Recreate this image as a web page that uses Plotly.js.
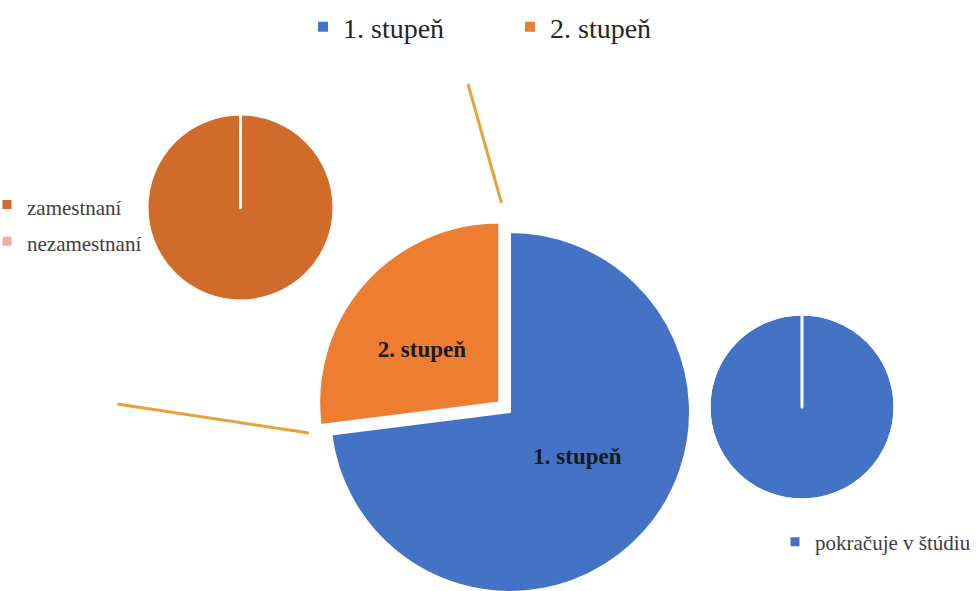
<!DOCTYPE html>
<html><head><meta charset="utf-8">
<script src="https://cdn.plot.ly/plotly-3.0.1.min.js"></script>
<style>html,body{margin:0;padding:0;overflow:hidden;background:#fff}#chart{width:976px;height:700px}</style>
</head><body><div id="chart"></div>
<script>
// ---- data ----
const stageLabels = ['1. stupeň', '2. stupeň'];
const stageValues = [73, 27];
const employmentLabels = ['zamestnaní', 'nezamestnaní'];
const employmentValues = [100, 0];
const studyLabels = ['pokračuje v štúdiu'];
const studyValues = [100];

// ---- helpers (page geometry) ----
const W = 976, H = 700;
const px = x => x / W;
const py = y => 1 - y / H;
const dom = (cx, cy, half) => ({x: [px(cx - half), px(cx + half)], y: [py(cy + half), py(cy - half)]});
const FONT = 'Liberation Serif, Times New Roman, serif';
const small = s => '<span style="font-size:21px">' + s + '</span>';

const mainPull = 0.08;
const traces = [
  {
    type: 'pie', labels: stageLabels, values: stageValues, sort: false,
    direction: 'clockwise', rotation: 0, pull: [0, mainPull],
    marker: {colors: ['#4472C4', '#ED7D31'], line: {color: '#ffffff', width: 2}},
    textinfo: 'label', texttemplate: ['%{label}<br> ', ' <br>%{label}'],
    textposition: 'inside', insidetextorientation: 'horizontal',
    insidetextfont: {family: FONT, size: 23, color: '#1a1a1a', weight: 'bold'},
    domain: dom(510, 412, 180 * (1 + mainPull)), legend: 'legend', hoverinfo: 'label+percent'
  },
  {
    type: 'pie', labels: employmentLabels.map(small), values: employmentValues, sort: false,
    direction: 'clockwise', rotation: 0,
    marker: {colors: ['#D06B2B', '#F2ACA0'], line: {color: '#ffffff', width: 3}},
    textinfo: 'none', domain: dom(240.5, 207.5, 93.5), legend: 'legend2', hoverinfo: 'label+percent'
  },
  {
    type: 'pie', labels: studyLabels, values: studyValues, sort: false,
    direction: 'clockwise', rotation: 0,
    marker: {colors: ['#4472C4'], line: {color: '#ffffff', width: 3}},
    textinfo: 'none', domain: dom(802, 407, 93), legend: 'legend3', hoverinfo: 'label+percent'
  },
  { // start edge of the single-slice pie
    type: 'pie', labels: studyLabels.concat(['']), values: studyValues.concat([0]), sort: false,
    direction: 'clockwise', rotation: 0,
    marker: {colors: ['rgba(0,0,0,0)', 'rgba(0,0,0,0)'], line: {color: '#ffffff', width: 3}},
    textinfo: 'none', domain: dom(802, 407, 93), showlegend: false, hoverinfo: 'skip'
  }
];

const lineStyle = {color: '#E9A23B', width: 3};
const layout = {
  width: W, height: H, margin: {l: 0, r: 0, t: 0, b: 0, autoexpand: false},
  paper_bgcolor: '#ffffff', plot_bgcolor: '#ffffff',
  showlegend: true,
  legend: {orientation: 'h', x: px(303), xanchor: 'left', y: py(27), yanchor: 'middle',
    font: {family: FONT, size: 28, color: '#262626'}, entrywidth: 162, entrywidthmode: 'pixels',
    itemclick: false, itemdoubleclick: false},
  legend2: {x: px(-13), xanchor: 'left', y: py(223), yanchor: 'middle',
    font: {family: FONT, size: 26, color: '#404040'}, itemclick: false, itemdoubleclick: false},
  legend3: {x: px(775), xanchor: 'left', y: py(542), yanchor: 'middle',
    font: {family: FONT, size: 21, color: '#404040'}, itemclick: false, itemdoubleclick: false},
  shapes: [
    {type: 'line', xref: 'paper', yref: 'paper', x0: px(468), y0: py(84), x1: px(501.5), y1: py(203), line: lineStyle},
    {type: 'line', xref: 'paper', yref: 'paper', x0: px(117.5), y0: py(404), x1: px(309), y1: py(433), line: lineStyle}
  ]
};
Plotly.newPlot('chart', traces, layout, {displayModeBar: false, staticPlot: true});
</script>
</body></html>
